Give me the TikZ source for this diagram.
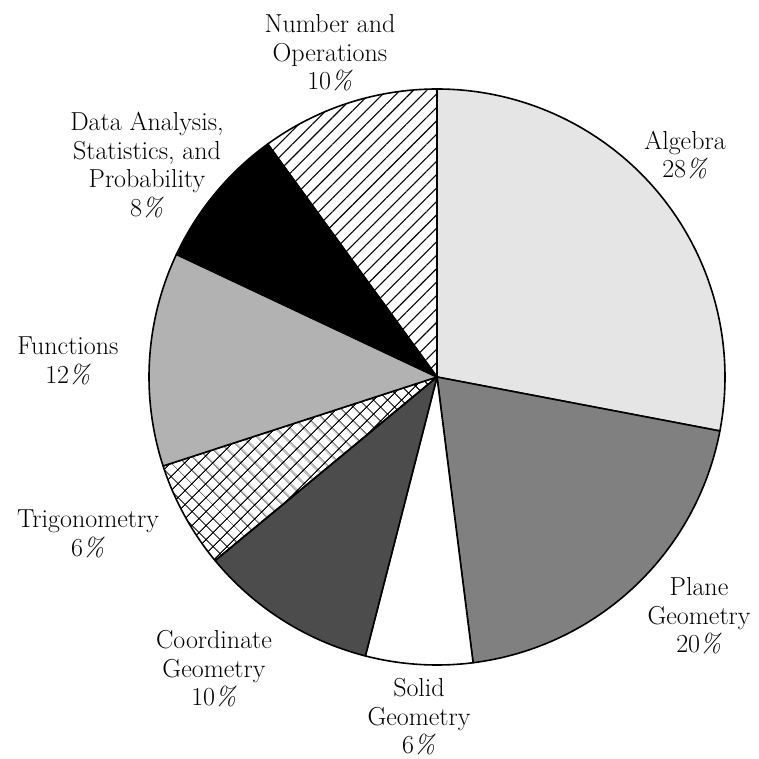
\documentclass[tikz,border=0pt]{standalone}
\usepackage{fontspec}
\setmainfont{Latin Modern Roman}
\usetikzlibrary{patterns.meta}
\begin{document}
\begin{tikzpicture}[x=1pt,y=-1pt,
  slice/.style={draw=black, line width=1.6pt, line join=round},
  lbl/.style={align=center, font=\fontsize{26}{28.5}\selectfont, inner sep=0pt}]
\useasboundingbox (0,0) rectangle (758,759);
\coordinate (O) at (437,377);
\def\R{288}
% Algebra 28%
\filldraw[slice, fill=black!10] (O) -- ++(-90:\R) arc[start angle=-90, end angle=10.8, radius=\R] -- cycle;
% Plane Geometry 20%
\filldraw[slice, fill=black!50] (O) -- ++(10.8:\R) arc[start angle=10.8, end angle=82.8, radius=\R] -- cycle;
% Solid Geometry 6%
\filldraw[slice, fill=white] (O) -- ++(82.8:\R) arc[start angle=82.8, end angle=104.4, radius=\R] -- cycle;
% Coordinate Geometry 10%
\filldraw[slice, fill=black!70] (O) -- ++(104.4:\R) arc[start angle=104.4, end angle=140.4, radius=\R] -- cycle;
% Trigonometry 6%
\draw[slice, pattern={Hatch[angle=45, distance=10.5pt, line width=1.1pt]}] (O) -- ++(140.4:\R) arc[start angle=140.4, end angle=162, radius=\R] -- cycle;
% Functions 12%
\filldraw[slice, fill=black!30] (O) -- ++(162:\R) arc[start angle=162, end angle=205.2, radius=\R] -- cycle;
% Data Analysis 8%
\filldraw[slice, fill=black] (O) -- ++(205.2:\R) arc[start angle=205.2, end angle=234, radius=\R] -- cycle;
% Number and Operations 10%
\draw[slice, pattern={Lines[angle=45, distance=9.5pt, line width=1.1pt]}] (O) -- ++(234:\R) arc[start angle=234, end angle=270, radius=\R] -- cycle;

\node[lbl] (num) at (330,53) {Number and\\Operations\\10\textit{\%}};
\node[lbl] (alg) at (685,155) {Algebra\\28\textit{\%}};
\node[lbl] (data) at (147,165) {Data Analysis,\\Statistics, and\\Probability\\8\textit{\%}};
\node[lbl] (fun) at (68,361) {Functions\\12\textit{\%}};
\node[lbl] (trig) at (88,534) {Trigonometry\\6\textit{\%}};
\node[lbl] (coord) at (214,669) {Coordinate\\Geometry\\10\textit{\%}};
\node[lbl] (solid) at (419,717) {Solid\\Geometry\\6\textit{\%}};
\node[lbl] (plane) at (699,616) {Plane\\Geometry\\20\textit{\%}};
\end{tikzpicture}
\end{document}
